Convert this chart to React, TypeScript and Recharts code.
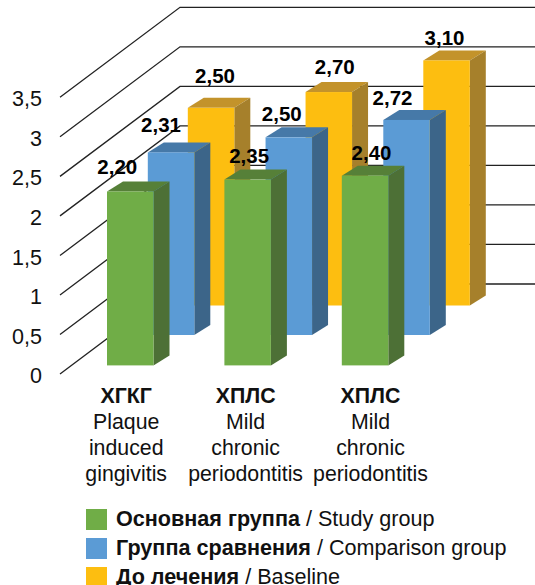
import React from "react";
import {
  BarChart,
  Bar,
  XAxis,
  YAxis,
  CartesianGrid,
  Legend,
  LabelList,
} from "recharts";

const categoryCodes = ["ХГКГ", "ХПЛС", "ХПЛС"];
const categoryLines = [
  ["Plaque", "induced", "gingivitis"],
  ["Mild", "chronic", "periodontitis"],
  ["Mild", "chronic", "periodontitis"],
];
const studyValues = [2.2, 2.35, 2.4];
const comparisonValues = [2.31, 2.5, 2.72];
const baselineValues = [2.5, 2.7, 3.1];
const yTicks = [0, 0.5, 1, 1.5, 2, 2.5, 3, 3.5];

const rows = categoryCodes.map((code, i) => ({
  code,
  study: studyValues[i],
  comparison: comparisonValues[i],
  baseline: baselineValues[i],
}));

const FONT = '"Liberation Sans", Arial, sans-serif';
const TEXT = "#111111";

// floor depth of the box and of the back wall, in px
const BOX_DX = 16;
const BOX_DY = 10;
const WALL_DX = 120;
const WALL_DY = 90;

const series = [
  {
    key: "baseline",
    bold: "До лечения",
    plain: " / Baseline",
    front: "#FDBE10",
    side: "#A6802B",
    top: "#C3932B",
    lift: 68.5,
    padding: { left: 91.8, right: 29.95 },
    nudges: [[4, -31], [6, -24], [-2, -21]],
  },
  {
    key: "comparison",
    bold: "Группа сравнения",
    plain: " / Comparison group",
    front: "#5B9BD5",
    side: "#3C6589",
    top: "#4679A8",
    lift: 39,
    padding: { left: 51.8, right: 69.95 },
    nudges: [[-10, -26.7], [-7, -22], [-14, -21]],
  },
  {
    key: "study",
    bold: "Основная группа",
    plain: " / Study group",
    front: "#70AD47",
    side: "#4D7036",
    top: "#568038",
    lift: 8.6,
    padding: { left: 12, right: 110.8 },
    nudges: [[-13, -23.3], [1.5, -23], [6.5, -22]],
  },
];

const tickNudges = [-4.5, -2.5, 5];
const legendOrder = ["study", "comparison", "baseline"];

const commaFormat = (v: number) => String(v).replace(".", ",");

function Box3D(props: any) {
  const { x, y, width, height, s } = props;
  const top = y - s.lift;
  const r = x + width;
  const b = top + height;
  return (
    <g>
      <polygon
        points={`${x},${top} ${x + BOX_DX},${top - BOX_DY} ${r + BOX_DX},${top - BOX_DY} ${r},${top}`}
        fill={s.top}
      />
      <polygon
        points={`${r},${top} ${r + BOX_DX},${top - BOX_DY} ${r + BOX_DX},${b - BOX_DY} ${r},${b}`}
        fill={s.side}
      />
      <rect x={x} y={top} width={width} height={height} fill={s.front} />
    </g>
  );
}

function ValueLabel(props: any) {
  const { x, y, width, value, index, s } = props;
  const [dx, dy] = s.nudges[index];
  return (
    <text
      x={x + width / 2 + dx}
      y={y - s.lift + dy}
      dy="0.29em"
      textAnchor="middle"
      fontFamily={FONT}
      fontSize={20.5}
      fontWeight="bold"
      fill="#000"
    >
      {Number(value).toFixed(2).replace(".", ",")}
    </text>
  );
}

function CategoryTick(props: any) {
  const { x, y, index } = props;
  const cx = x + tickNudges[index];
  return (
    <g fontFamily={FONT} textAnchor="middle" fill={TEXT}>
      <text x={cx} y={y + 21.7} dy="0.36em" fontSize={21.3} fontWeight="bold">
        {categoryCodes[index]}
      </text>
      {categoryLines[index].map((line, i) => (
        <text key={i} x={cx} y={y + 47.7 + i * 26} dy="0.36em" fontSize={21.3}>
          {line}
        </text>
      ))}
    </g>
  );
}

// each gridline runs across the floor and then along the back wall
function WallLine(props: any) {
  const { x1, y1, x2 } = props;
  return (
    <path
      key={props.key}
      d={`M${x1},${y1} L${x1 + WALL_DX},${y1 - WALL_DY} L${x2},${y1 - WALL_DY}`}
      fill="none"
      stroke="#222"
      strokeWidth={1.3}
    />
  );
}

function LegendBlock() {
  return (
    <div style={{ fontFamily: FONT, fontSize: 21.6, color: TEXT }}>
      {legendOrder.map((key) => {
        const s = series.find((item) => item.key === key)!;
        return (
          <div
            key={key}
            style={{ display: "flex", alignItems: "center", height: 21, marginBottom: 8 }}
          >
            <span
              style={{ width: 21, height: 21, marginRight: 9, flex: "none", background: s.front }}
            />
            <span style={{ whiteSpace: "pre", position: "relative", top: -1 }}>
              <b>{s.bold}</b>
              {s.plain}
            </span>
          </div>
        );
      })}
    </div>
  );
}

export default function App() {
  return (
    <div
      style={{
        position: "absolute",
        left: 0,
        top: 0,
        width: 535,
        height: 585,
        overflow: "hidden",
        background: "#fff",
      }}
    >
      <BarChart
        width={535}
        height={585}
        data={rows}
        margin={{ top: 97.3, right: 0, bottom: 21, left: 0 }}
      >
        <CartesianGrid
          xAxisId="study"
          vertical={false}
          horizontal={WallLine as any}
          horizontalValues={yTicks}
        />
        <YAxis
          width={60}
          domain={[0, 3.5]}
          ticks={yTicks}
          interval={0}
          axisLine={false}
          tickLine={false}
          tickSize={0}
          tickMargin={18}
          tickFormatter={commaFormat}
          tick={{ fontSize: 21.5, fontFamily: FONT, fill: TEXT, dy: 1.5 }}
        />
        {series.map((s) => (
          <XAxis
            key={s.key}
            xAxisId={s.key}
            dataKey="code"
            hide={s.key !== "study"}
            height={s.key === "study" ? 190 : 0}
            padding={s.padding}
            interval={0}
            axisLine={false}
            tickLine={false}
            tickSize={0}
            tickMargin={0}
            tick={CategoryTick as any}
          />
        ))}
        <Legend
          layout="vertical"
          align="center"
          verticalAlign="middle"
          content={LegendBlock}
          wrapperStyle={{ left: 86, top: 509, width: 449, bottom: "auto", right: "auto" }}
        />
        {series.map((s) => (
          <Bar
            key={s.key}
            xAxisId={s.key}
            dataKey={s.key}
            barSize={46.5}
            isAnimationActive={false}
            shape={(p: any) => <Box3D {...p} s={s} />}
          >
            <LabelList dataKey={s.key} content={(p: any) => <ValueLabel {...p} s={s} />} />
          </Bar>
        ))}
      </BarChart>
    </div>
  );
}
